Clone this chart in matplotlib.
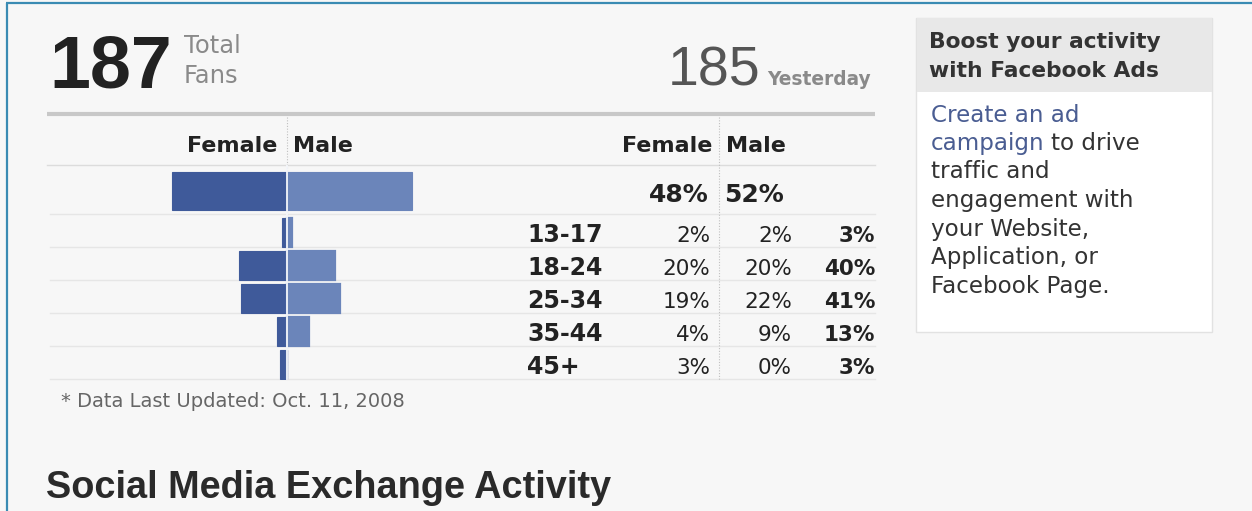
import matplotlib
matplotlib.use("Agg")
import matplotlib.pyplot as plt
from matplotlib.patches import Rectangle

# ---------------- data ----------------
total_fans = 187
yesterday_fans = 185
overall_female = 48
overall_male = 52
ages = ["13-17", "18-24", "25-34", "35-44", "45+"]
female_pct = [2, 20, 19, 4, 3]
male_pct = [2, 20, 22, 9, 0]
total_pct = [3, 40, 41, 13, 3]
footnote = "* Data Last Updated: Oct. 11, 2008"
heading = "Social Media Exchange Activity"
ad_title = ["Boost your activity", "with Facebook Ads"]
ad_lines = ["traffic and", "engagement with", "your Website,", "Application, or", "Facebook Page."]

# ---------------- style ----------------
W, H = 1252, 511
BG = "#f7f7f7"
FEM = "#3f5a9a"
MAL = "#6b85ba"
DARK = "#222222"
GRAY = "#8a8a8a"
LINK = "#4a5d92"

fig = plt.figure(figsize=(W / 100, H / 100), dpi=100, facecolor=BG)
ov = fig.add_axes([0, 0, 1, 1], zorder=1)
ov.set_xlim(0, W)
ov.set_ylim(H, 0)
ov.axis("off")
ov.patch.set_alpha(0)

# border
ov.plot([6.5, 6.5], [3, H], color="#3a8bb3", lw=1.6, solid_capstyle="butt")
ov.plot([6, W], [3.5, 3.5], color="#3a8bb3", lw=1.6, solid_capstyle="butt")

# header numbers
ov.text(49, 88, str(total_fans), fontfamily="Liberation Sans", fontweight="bold",
        fontsize=53, color=DARK, ha="left", va="baseline")
ov.text(184, 53, "Total", fontfamily="DejaVu Sans", fontsize=17.5, color=GRAY, va="baseline")
ov.text(184, 83, "Fans", fontfamily="DejaVu Sans", fontsize=17.5, color=GRAY, va="baseline")
ov.text(760, 85, str(yesterday_fans), fontfamily="Liberation Sans", fontsize=40,
        color="#555555", ha="right", va="baseline")
ov.text(767, 85, "Yesterday", fontfamily="DejaVu Sans", fontweight="bold", fontsize=13.4,
        color=GRAY, ha="left", va="baseline")

# table rules
ov.plot([47, 875], [114.5, 114.5], color="#c8c8c8", lw=3, solid_capstyle="butt")
ov.plot([47, 875], [165, 165], color="#dcdcdc", lw=1)
for yy in [214, 247, 280, 313, 346, 379]:
    ov.plot([50, 875], [yy, yy], color="#e6e6e6", lw=1)
ov.plot([287, 287], [117, 380], color="#c0c0c0", lw=0.8, ls=(0, (1, 1.5)))
ov.plot([719, 719], [117, 380], color="#c0c0c0", lw=0.8, ls=(0, (1, 1.5)))

# column headers
hdr = dict(fontfamily="DejaVu Sans", fontweight="bold", fontsize=16, color=DARK, va="baseline")
ov.text(277, 152, "Female", ha="right", **hdr)
ov.text(293, 152, "Male", ha="left", **hdr)
ov.text(712, 152, "Female", ha="right", **hdr)
ov.text(726, 152, "Male", ha="left", **hdr)

# overall percentages
ov.text(709, 202, f"{overall_female}%", ha="right", va="baseline", fontfamily="DejaVu Sans",
        fontweight="bold", fontsize=18, color=DARK)
ov.text(724, 202, f"{overall_male}%", ha="left", va="baseline", fontfamily="DejaVu Sans",
        fontweight="bold", fontsize=18, color=DARK)

# age table text
for i, (a, f, m, t) in enumerate(zip(ages, female_pct, male_pct, total_pct)):
    yb = 242 + 33 * i
    ov.text(527, yb, a, ha="left", va="baseline", fontfamily="DejaVu Sans",
            fontweight="bold", fontsize=17, color=DARK)
    ov.text(710, yb, f"{f}%", ha="right", va="baseline", fontfamily="DejaVu Sans",
            fontsize=15.5, color=DARK)
    ov.text(792, yb, f"{m}%", ha="right", va="baseline", fontfamily="DejaVu Sans",
            fontsize=15.5, color=DARK)
    ov.text(875, yb, f"{t}%", ha="right", va="baseline", fontfamily="DejaVu Sans",
            fontweight="bold", fontsize=15.5, color=DARK)

# footnote & heading
ov.text(61, 407, footnote, ha="left", va="baseline", fontfamily="DejaVu Sans",
        fontsize=14, color="#666666")
ov.text(46, 498, heading, ha="left", va="baseline", fontfamily="Liberation Sans",
        fontweight="bold", fontsize=27.3, color="#2a2a2a")

# ---------------- bar chart (butterfly) ----------------
bx0, bx1, by0, by1 = 47, 527, 165, 380
bax = fig.add_axes([bx0 / W, (H - by1) / H, (bx1 - bx0) / W, (by1 - by0) / H], zorder=2)
bax.patch.set_alpha(0)
bax.set_xlim(-100, 100)
row_px = 33.0
bax.set_ylim((by1 - 232) / row_px, (by0 - 232) / row_px)
bax.axis("off")

ypos = list(range(len(ages)))
overall_y = (191 - 232) / row_px
bax.barh([overall_y], [-overall_female], height=38 / row_px, color=FEM, edgecolor=FEM, lw=0.8)
bax.barh([overall_y], [overall_male], height=38 / row_px, color=MAL, edgecolor=MAL, lw=0.8)
bax.barh(ypos, [-v for v in female_pct], height=29 / row_px, color=FEM, edgecolor=FEM, lw=0.8)
bax.barh(ypos, male_pct, height=29 / row_px, color=MAL, edgecolor=MAL, lw=1.6)
bax.axvline(0, color="#f4f6fa", lw=1.3, zorder=5)

# ---------------- ad box ----------------
ov.add_patch(Rectangle((916, 18), 296, 314, facecolor="white", edgecolor="#e2e2e2", lw=1))
ov.add_patch(Rectangle((916.5, 18.5), 295, 73.5, facecolor="#e8e8e8", edgecolor="none"))
ov.text(929, 48, ad_title[0], ha="left", va="baseline", fontfamily="DejaVu Sans",
        fontweight="bold", fontsize=15.7, color="#333333")
ov.text(929, 77, ad_title[1], ha="left", va="baseline", fontfamily="DejaVu Sans",
        fontweight="bold", fontsize=15.7, color="#333333")

body = dict(fontfamily="DejaVu Sans", fontsize=16.6, va="baseline", ha="left")
ov.text(931, 122, "Create an ad", color=LINK, **body)
t1 = ov.text(931, 150, "campaign", color=LINK, **body)
fig.canvas.draw()
r = fig.canvas.get_renderer()
bb = t1.get_window_extent(r)
x_end = ov.transData.inverted().transform((bb.x1, bb.y0))[0]
ov.text(x_end + 6, 150, "to drive", color="#333333", **body)
for k, line in enumerate(ad_lines):
    ov.text(931, 178.5 + 28.6 * k, line, color="#333333", **body)

fig.savefig("out.png", dpi=100, facecolor=BG)
